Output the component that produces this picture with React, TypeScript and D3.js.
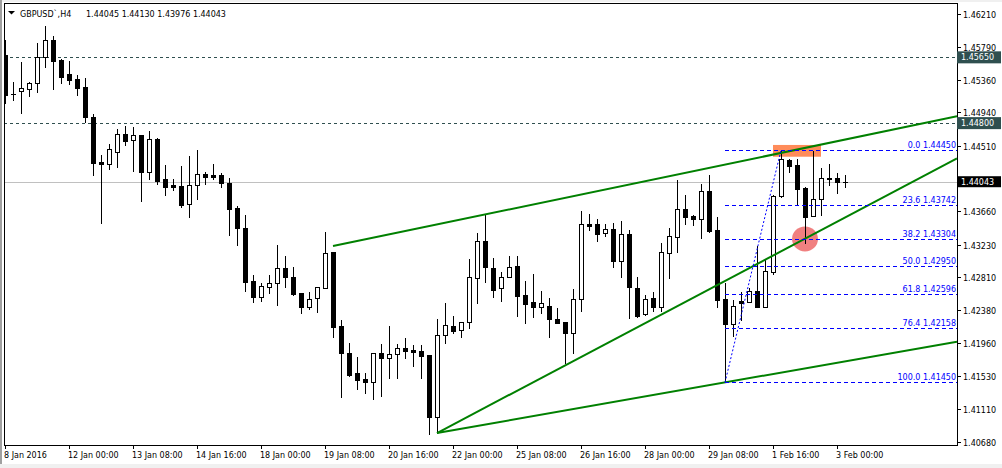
import React from 'react';
import * as d3 from 'd3';

// ---- data (GBPUSD H4) ----
const opens = [
  1.45680, 1.45180, 1.45219, 1.45245, 1.45315, 1.45651, 1.45874, 1.45616, 1.45435, 1.45370,
  1.45267, 1.44879, 1.44298, 1.44268, 1.44431, 1.44660, 1.44578, 1.44647, 1.44173, 1.44595,
  1.44074, 1.44005, 1.43988, 1.43751, 1.44001, 1.44143, 1.44134, 1.44130, 1.44026, 1.43700,
  1.43441, 1.42760, 1.42557, 1.42687, 1.42731, 1.42924, 1.42808, 1.42601, 1.42420, 1.42537,
  1.42674, 1.43131, 1.42179, 1.41826, 1.41568, 1.41498, 1.41459, 1.41826, 1.41761, 1.41813,
  1.41891, 1.41869, 1.41856, 1.41804, 1.41007, 1.42059, 1.42179, 1.42127, 1.42227, 1.42795,
  1.43273, 1.42924, 1.42666, 1.42816, 1.42954, 1.42575, 1.42489, 1.42420, 1.42437, 1.42265,
  1.42227, 1.42092, 1.42524, 1.43497, 1.43497, 1.43377, 1.43432, 1.43023, 1.43367, 1.42674,
  1.42330, 1.42537, 1.42428, 1.43126, 1.43325, 1.43687, 1.43594, 1.43557, 1.43923, 1.43419,
  1.42528, 1.42205, 1.42502, 1.42493, 1.42631, 1.42428, 1.42880, 1.43859, 1.44324, 1.44263,
  1.43966, 1.43604, 1.43816, 1.44090, 1.44087, 1.44045,
];
const highs = [
  1.45874, 1.45335, 1.45586, 1.45331, 1.45839, 1.46055, 1.45926, 1.45629, 1.45607, 1.45422,
  1.45379, 1.44918, 1.44388, 1.44530, 1.44724, 1.44763, 1.44750, 1.44650, 1.44698, 1.44604,
  1.44259, 1.44078, 1.44246, 1.44375, 1.44453, 1.44175, 1.44272, 1.44152, 1.44087, 1.43729,
  1.43613, 1.42838, 1.42731, 1.42838, 1.43225, 1.43083, 1.42945, 1.42609, 1.42614, 1.42687,
  1.43397, 1.43139, 1.42256, 1.41963, 1.41782, 1.41568, 1.41834, 1.41942, 1.42179, 1.41942,
  1.42020, 1.41933, 1.41933, 1.41804, 1.42265, 1.42472, 1.42308, 1.42234, 1.43041, 1.43377,
  1.43613, 1.43054, 1.42873, 1.43083, 1.43083, 1.42760, 1.42851, 1.42631, 1.42537, 1.42407,
  1.42234, 1.42653, 1.43665, 1.43626, 1.43557, 1.43497, 1.43514, 1.43536, 1.43419, 1.42816,
  1.42575, 1.42612, 1.43255, 1.43441, 1.44059, 1.43871, 1.43607, 1.44014, 1.44130, 1.43581,
  1.42738, 1.42515, 1.42612, 1.42666, 1.43212, 1.43032, 1.43871, 1.44450, 1.44333, 1.44340,
  1.43971, 1.44440, 1.44216, 1.44268, 1.44160, 1.44130,
];
const lows = [
  1.45060, 1.45099, 1.44935, 1.45151, 1.45206, 1.45529, 1.45245, 1.45322, 1.45306, 1.45164,
  1.44819, 1.44130, 1.43514, 1.44207, 1.44237, 1.44518, 1.44185, 1.43798, 1.44078, 1.44014,
  1.43871, 1.43936, 1.43720, 1.43591, 1.43824, 1.44017, 1.44082, 1.43979, 1.43355, 1.43225,
  1.42637, 1.42493, 1.42506, 1.42609, 1.42450, 1.42679, 1.42579, 1.42351, 1.42395, 1.42364,
  1.42666, 1.42041, 1.41265, 1.41533, 1.41361, 1.41317, 1.41232, 1.41274, 1.41503, 1.41503,
  1.41761, 1.41662, 1.41511, 1.40783, 1.40800, 1.41955, 1.42084, 1.42033, 1.42149, 1.42480,
  1.42751, 1.42557, 1.42506, 1.42808, 1.42308, 1.42221, 1.42291, 1.42351, 1.42041, 1.42218,
  1.41704, 1.41826, 1.42376, 1.43419, 1.43281, 1.43342, 1.42945, 1.42816, 1.42286, 1.42299,
  1.42317, 1.42376, 1.42375, 1.42805, 1.43139, 1.43501, 1.43484, 1.43322, 1.43391, 1.42428,
  1.41450, 1.42050, 1.42256, 1.42493, 1.42428, 1.42420, 1.42851, 1.43842, 1.44173, 1.43755,
  1.43247, 1.43600, 1.43613, 1.44001, 1.43901, 1.43976,
];
const closes = [
  1.45164, 1.45170, 1.45254, 1.45319, 1.45651, 1.45874, 1.45607, 1.45400, 1.45357, 1.45258,
  1.44883, 1.44289, 1.44268, 1.44466, 1.44656, 1.44573, 1.44643, 1.44173, 1.44595, 1.44052,
  1.43979, 1.43979, 1.43746, 1.44001, 1.44139, 1.44108, 1.44108, 1.44023, 1.43694, 1.43441,
  1.42751, 1.42557, 1.42696, 1.42731, 1.42924, 1.42808, 1.42592, 1.42420, 1.42524, 1.42679,
  1.43118, 1.42170, 1.41826, 1.41546, 1.41481, 1.41459, 1.41826, 1.41761, 1.41817, 1.41891,
  1.41856, 1.41847, 1.41795, 1.40999, 1.42059, 1.42188, 1.42118, 1.42227, 1.42808, 1.43273,
  1.42937, 1.42644, 1.42816, 1.42945, 1.42570, 1.42463, 1.42420, 1.42472, 1.42265, 1.42221,
  1.42092, 1.42524, 1.43497, 1.43471, 1.43367, 1.43428, 1.43023, 1.43364, 1.42679, 1.42308,
  1.42524, 1.42428, 1.43131, 1.43339, 1.43687, 1.43591, 1.43557, 1.43917, 1.43406, 1.42515,
  1.42208, 1.42437, 1.42480, 1.42631, 1.42428, 1.42889, 1.43859, 1.44333, 1.44250, 1.43949,
  1.43583, 1.43820, 1.44087, 1.44075, 1.44043, 1.44043,
];

const timeTickIndex = [0, 8, 16, 24, 32, 40, 48, 56, 64, 72, 80, 88, 96, 104];
const timeTickLabels = [
  '8 Jan 2016', '12 Jan 00:00', '13 Jan 08:00', '14 Jan 16:00', '18 Jan 00:00', '19 Jan 08:00',
  '20 Jan 16:00', '22 Jan 00:00', '25 Jan 08:00', '26 Jan 16:00', '28 Jan 00:00', '29 Jan 08:00',
  '1 Feb 16:00', '3 Feb 00:00',
];
const priceTicks = [
  1.46210, 1.45790, 1.45360, 1.44940, 1.44510, 1.44090, 1.43660, 1.43230, 1.42810, 1.42380,
  1.41960, 1.41530, 1.41110, 1.40680,
];
const levelLines = [1.45650, 1.44800];
const bidPrice = 1.44043;
const headerOHLC = [1.44045, 1.44130, 1.43976, 1.44043];

const fibLevels = [0.0, 23.6, 38.2, 50.0, 61.8, 76.4, 100.0];
const fibStartIndex = 90;
const fibEndIndex = 97;
const fibLowPrice = 1.41450;
const fibHighPrice = 1.44450;

// trend lines as [index1, price1, index2, price2] (rays to the right)
const trendLines = [
  [41, 1.43212, 105, 1.44587],
  [54, 1.40796, 105, 1.43580],
  [54, 1.40796, 90, 1.41450],
];
const rectObject = [96, 1.44518, 102, 1.44366];
const circleObject = [100, 1.43304];

// ---- layout ----
const W = 1002;
const H = 468;
const left = 4;
const top = 4;
const right = 957;
const bottom = 445;
const FONT = 'DejaVu Sans, Verdana, sans-serif';
const FS = 8;

export default function App() {
  const x = d3.scaleLinear().domain([0, 105]).range([5, 845]);
  const y = d3.scaleLinear().domain([1.4068, 1.4621]).range([442, 14]);

  const candles = opens.map((o, i) => {
    const c = closes[i];
    const cx = Math.round(x(i));
    const yh = Math.round(y(highs[i]));
    const yl = Math.round(y(lows[i]));
    const yo = Math.round(y(o));
    const yc = Math.round(y(c));
    const bull = c > o;
    const bt = Math.min(yo, yc);
    const bb = Math.max(yo, yc);
    return (
      <g key={i}>
        <line x1={cx + 0.5} x2={cx + 0.5} y1={yh} y2={yl + 1} stroke="#000" strokeWidth={1} />
        {bb - bt < 1 ? (
          <line x1={cx - 2} x2={cx + 3} y1={bt + 0.5} y2={bt + 0.5} stroke="#000" strokeWidth={1} />
        ) : (
          <rect x={cx - 1.5} y={bt + 0.5} width={4} height={bb - bt} fill={bull ? '#fff' : '#000'} stroke="#000" strokeWidth={1} />
        )}
      </g>
    );
  });

  const rays = trendLines.map((t, k) => {
    const x1 = x(t[0]);
    const y1 = y(t[1]);
    const x2 = x(t[2]);
    const y2 = y(t[3]);
    const slope = (y2 - y1) / (x2 - x1);
    const xe = right;
    const ye = y1 + slope * (xe - x1);
    return <line key={k} x1={x1} y1={y1} x2={xe} y2={ye} stroke="#008000" strokeWidth={2} />;
  });

  const fibRange = fibHighPrice - fibLowPrice;
  const fibX0 = x(fibStartIndex);
  const bidY = y(bidPrice);

  return (
    <svg width={W} height={H} style={{ position: 'absolute', left: 0, top: 0, display: 'block' }} fontFamily={FONT} fontSize={FS}>
      <defs>
        <clipPath id="plot">
          <rect x={left + 1} y={top + 1} width={right - left - 1} height={bottom - top - 1} />
        </clipPath>
      </defs>
      <rect x={0} y={0} width={W} height={H} fill="#fff" />
      <rect x={0} y={0} width={W} height={2} fill="#f0f0f0" />
      <rect x={0} y={0} width={2} height={H} fill="#a0a0a0" />
      <rect x={0} y={464} width={W} height={4} fill="#f0f0f0" />

      <g clipPath="url(#plot)">
        {/* level lines */}
        {levelLines.map((p, k) => (
          <line key={k} x1={left} x2={right} y1={Math.round(y(p)) + 0.5} y2={Math.round(y(p)) + 0.5} stroke="#2f4f4f" strokeWidth={1} strokeDasharray="3,3" />
        ))}
        <line x1={left} x2={right} y1={Math.round(bidY) + 0.5} y2={Math.round(bidY) + 0.5} stroke="#c0c0c0" strokeWidth={1} />

        {/* background objects */}
        <rect x={x(rectObject[0])} y={y(rectObject[1])} width={x(rectObject[2]) - x(rectObject[0])} height={y(rectObject[3]) - y(rectObject[1])} fill="#ff8c5a" />
        <ellipse cx={x(circleObject[0])} cy={y(circleObject[1])} rx={13} ry={12.5} fill="#f08080" />

        {candles}
        {rays}

        {/* fibonacci */}
        <line x1={x(fibStartIndex)} y1={y(fibLowPrice)} x2={x(fibEndIndex)} y2={y(fibHighPrice)} stroke="#0000ff" strokeWidth={1} strokeDasharray="2,2" />
        {fibLevels.map((lv, k) => {
          const p = fibHighPrice - (fibRange * lv) / 100;
          const yy = Math.round(y(p)) + 0.5;
          return (
            <g key={k}>
              <line x1={fibX0} x2={right} y1={yy} y2={yy} stroke="#0000ff" strokeWidth={1} strokeDasharray="4,3" />
              <text x={right - 1} y={yy - 2.5} textAnchor="end" fill="#0000ff">
                {`${lv.toFixed(1)} ${p.toFixed(5)}`}
              </text>
            </g>
          );
        })}
      </g>

      {/* frame */}
      <rect x={left + 0.5} y={top - 0.5} width={right - left} height={bottom - top + 1} fill="none" stroke="#000" strokeWidth={1} />

      {/* price axis */}
      {priceTicks.map((p, k) => {
        const yy = Math.round(y(p)) + 0.5;
        const hidden = Math.abs(y(p) - bidY) < 9;
        return (
          <g key={k}>
            <line x1={right} x2={right + 4} y1={yy} y2={yy} stroke="#000" />
            {!hidden && <text x={963} y={yy + 3} fill="#000">{p.toFixed(5)}</text>}
          </g>
        );
      })}
      {levelLines.map((p, k) => {
        const yy = y(p);
        return (
          <g key={k}>
            <rect x={right} y={yy - 6} width={W - right - 1} height={12} fill="#2f4f4f" />
            <text x={961} y={yy + 3} fill="#fff">{p.toFixed(5)}</text>
          </g>
        );
      })}
      <rect x={right} y={bidY - 5.5} width={W - right - 1} height={11} fill="#000" />
      <text x={961} y={bidY + 3} fill="#fff">{bidPrice.toFixed(5)}</text>

      {/* time axis */}
      {timeTickIndex.map((ix, k) => {
        const xx = Math.round(x(ix)) + 0.5;
        return (
          <g key={k}>
            <line x1={xx} x2={xx} y1={bottom} y2={bottom + 4} stroke="#000" />
            <text x={xx - 1.5} y={457.5} fill="#000">{timeTickLabels[k]}</text>
          </g>
        );
      })}

      {/* header */}
      <polygon points="8,11 15,11 11.5,14.5" fill="#000" />
      <text x={20} y={16.5} fill="#000">GBPUSD`,H4</text>
      <text x={86} y={16.5} fill="#000">{headerOHLC.map((v) => v.toFixed(5)).join(' ')}</text>
    </svg>
  );
}
